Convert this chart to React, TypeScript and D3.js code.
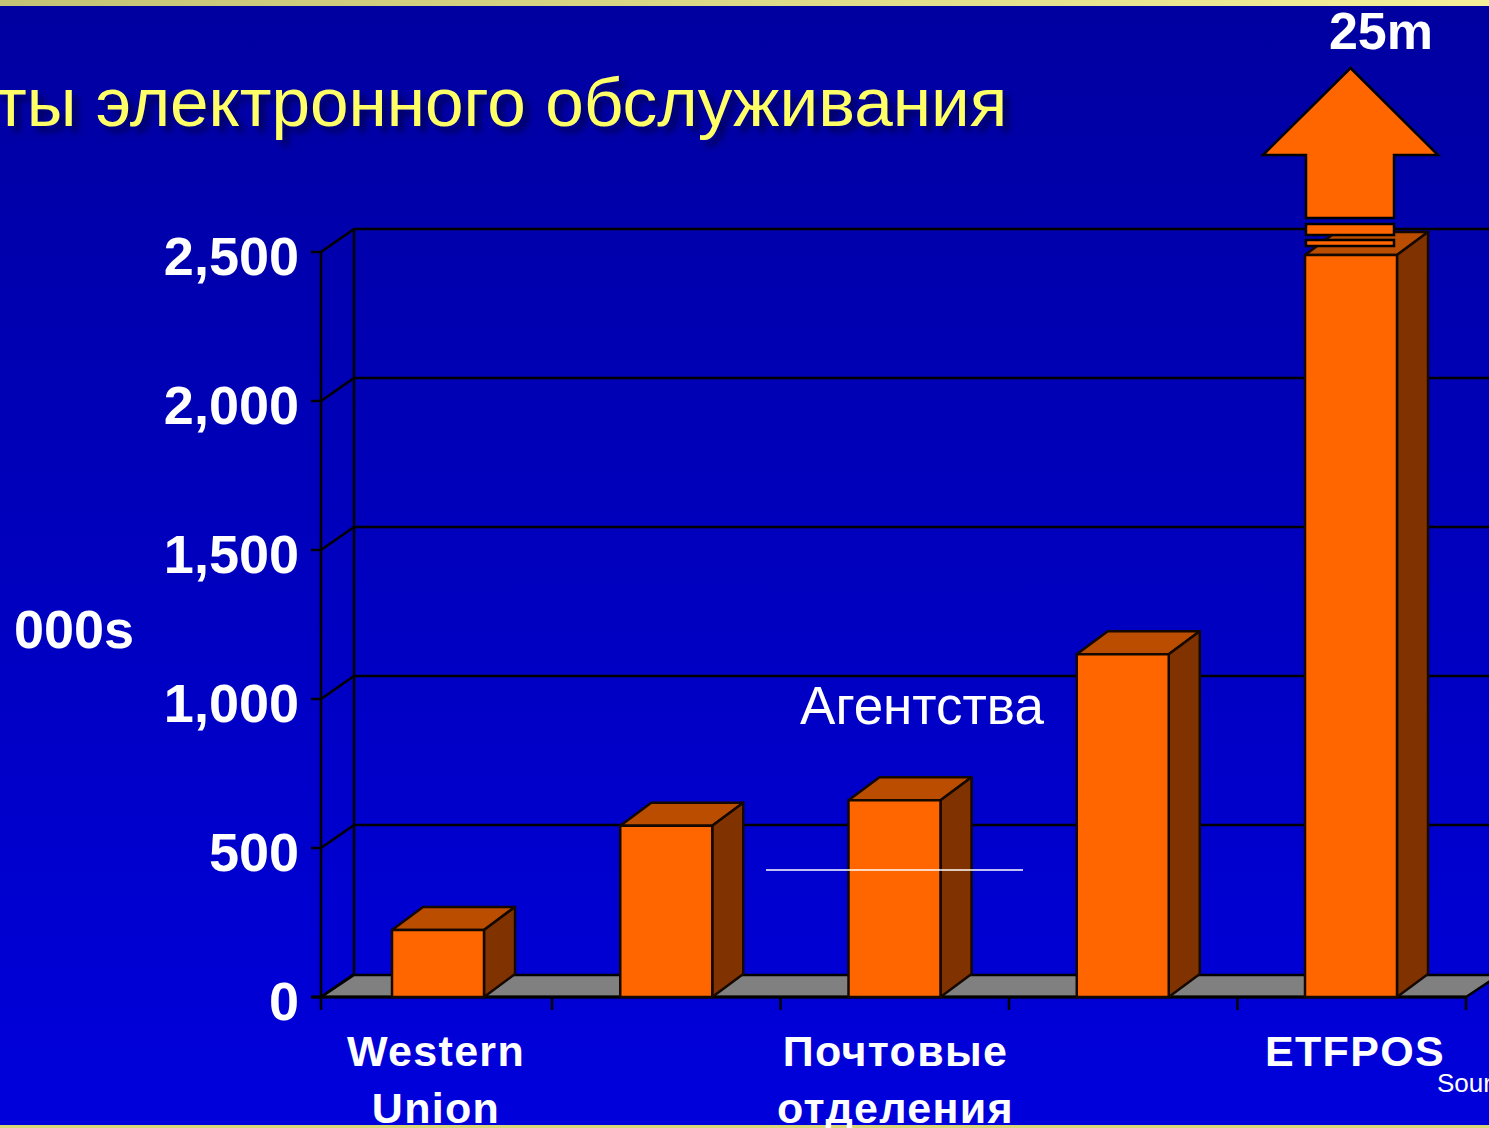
import React from "react";
import * as d3 from "d3";

const categories = ["Western Union", "Ещё 1", "Почтовые отделения", "Агентства", "ETFPOS"];
const values = [225, 575, 660, 1150, 2490];
const yTicks = [0, 500, 1000, 1500, 2000, 2500];
const categoryLabels = [
  { lines: ["Western", "Union"], index: 0 },
  { lines: ["Почтовые", "отделения"], index: 2 },
  { lines: ["ETFPOS"], index: 4 },
];
const titleText = "ты электронного обслуживания";
const unitLabel = "000s";
const breakLabel = "25m";
const agentsLabel = "Агентства";
const sourceLabel = "Source";

const W = 1489, H = 1128;
const FONT = "'Liberation Sans', Arial, sans-serif";

export default function App() {
  const y = d3.scaleLinear().domain([0, 2500]).range([997, 252]);
  const barX = d3.scalePoint<number>().domain(d3.range(5)).range([392, 1305]);
  const tickX = d3.scaleLinear().domain([1, 5]).range([552, 1466]);
  const labelX = d3.scalePoint<number>().domain(d3.range(5)).range([436, 1355]);
  const dx = 33, dy = -23;
  const barW = 92;
  const right = 1489;
  const line = d3.line();
  const poly = (pts: [number, number][]) => line(pts) + "Z";

  const ax = 1350.5;
  const arrow = poly([[ax, 68], [1438, 155], [1394, 155], [1394, 218], [1306, 218], [1306, 155], [1263, 155]]);

  return (
    <svg width={W} height={H} style={{ position: "absolute", left: 0, top: 0, display: "block" }} fontFamily={FONT}>
      <defs>
        <linearGradient id="bg" x1="0" x2="0" y1="0" y2="1">
          <stop offset="0" stopColor="#0000a0" />
          <stop offset="1" stopColor="#0000dc" />
        </linearGradient>
        <linearGradient id="band" x1="0" x2="1" y1="0" y2="0">
          <stop offset="0" stopColor="#c4c276" />
          <stop offset="1" stopColor="#f4f09a" />
        </linearGradient>
        <filter id="sh" x="-5%" y="-30%" width="110%" height="170%">
          <feGaussianBlur stdDeviation="3" />
        </filter>
      </defs>
      <rect width={W} height={H} fill="url(#bg)" />
      <rect width={W} height={6} fill="url(#band)" />
      <rect y={1125} width={W} height={3} fill="#d8d878" />

      <text x={-5} y={126} fontSize={69.3} fill="#000050" opacity={0.85} filter="url(#sh)" transform="translate(6,6)">{titleText}</text>
      <text x={-5} y={126} fontSize={69.3} fill="#ffff66">{titleText}</text>

      <text x={1381} y={49} fontSize={52} fontWeight="bold" fill="#fff" textAnchor="middle">{breakLabel}</text>

      {/* floor */}
      <path d={poly([[321, y(0)], [321 + dx, y(0) + dy + 1], [1466 + dx, y(0) + dy + 1], [1466, y(0)]])} fill="#808080" stroke="#000" strokeWidth={2.5} />

      {/* back wall + side wall lines */}
      {yTicks.map(t => (
        <g key={t} stroke="#000" strokeWidth={2.5} fill="none">
          {t > 0 && <line x1={321 + dx} x2={right} y1={y(t) + dy} y2={y(t) + dy} />}
          <line x1={321} x2={321 + dx} y1={y(t)} y2={y(t) + dy} />
          <line x1={311} x2={321} y1={y(t)} y2={y(t)} />
        </g>
      ))}
      <line x1={321 + dx} x2={321 + dx} y1={y(2500) + dy} y2={y(0) + dy} stroke="#000" strokeWidth={2.5} />
      <line x1={321} x2={321} y1={y(2500)} y2={y(0) + 13} stroke="#000" strokeWidth={2.5} />
      <line x1={311} x2={1466} y1={y(0)} y2={y(0)} stroke="#000" strokeWidth={3} />
      {d3.range(1, 6).map(i => (
        <line key={i} x1={tickX(i)} x2={tickX(i)} y1={y(0)} y2={y(0) + 13} stroke="#000" strokeWidth={2.5} />
      ))}

      {/* bars */}
      {values.map((v, i) => {
        const l = barX(i) as number, r = l + barW, t = y(v), b = y(0);
        return (
          <g key={categories[i]} stroke="#140800" strokeWidth={2.5} strokeLinejoin="round">
            <path d={poly([[l, t], [l + dx - 2, t + dy], [r + dx - 2, t + dy], [r, t]])} fill="#bb4d00" />
            <path d={poly([[r, t], [r + dx - 2, t + dy], [r + dx - 2, b + dy], [r, b]])} fill="#803300" />
            <rect x={l} y={t} width={barW} height={b - t} fill="#ff6600" />
          </g>
        );
      })}

      {/* break arrow */}
      <g fill="#ff6600" stroke="#000" strokeWidth={2.5}>
        <path d={arrow} />
        <rect x={1306} y={224} width={88} height={11} />
        <rect x={1306} y={240} width={88} height={6} />
      </g>

      {/* y labels */}
      {yTicks.map(t => (
        <text key={t} x={299} y={y(t) + 22.5} fontSize={54} fontWeight="bold" fill="#fff" textAnchor="end">
          {d3.format(",")(t)}
        </text>
      ))}
      <text x={14} y={648} fontSize={54} fontWeight="bold" fill="#fff">{unitLabel}</text>

      {/* category labels */}
      {categoryLabels.map(c => (
        <text key={c.index} fontSize={43} fontWeight="bold" fill="#fff" textAnchor="middle" letterSpacing={1.3}>
          {c.lines.map((ln, j) => (
            <tspan key={j} x={labelX(c.index)} y={1066 + j * 57}>{ln}</tspan>
          ))}
        </text>
      ))}

      <text x={922} y={724} fontSize={53} fill="#fff" textAnchor="middle">{agentsLabel}</text>
      <line x1={766} x2={1023} y1={870} y2={870} stroke="#fff" strokeWidth={1.5} />
      <text x={1437} y={1092} fontSize={26} fill="#fff">{sourceLabel}</text>
    </svg>
  );
}
